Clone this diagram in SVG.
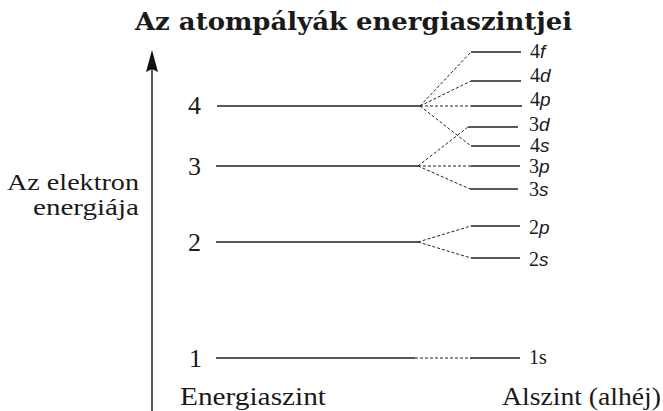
<svg xmlns="http://www.w3.org/2000/svg" width="663" height="411" viewBox="0 0 663 411">
<defs>
<style>
.serif{font-family:"Liberation Serif","Times New Roman",serif;fill:#1a1a1a}
.lab{font-family:"Liberation Serif","Times New Roman",serif;font-size:20px;fill:#1a1a1a}
.it{font-family:"Liberation Sans",Arial,sans-serif;font-style:italic;font-size:19px}
.lvl{stroke:#222;stroke-width:1.3;fill:none}
.dash{stroke:#222;stroke-width:1;stroke-dasharray:3 2;fill:none}
</style>
</defs>
<rect width="663" height="411" fill="#fff"/>
<text id="title" x="135" y="30" font-family="'DejaVu Serif','Liberation Serif',serif" font-size="25" font-weight="bold" fill="#1a1a1a" textLength="437" lengthAdjust="spacingAndGlyphs">Az atompályák energiaszintjei</text>
<g id="axis">
<line x1="152" y1="411" x2="152" y2="66" stroke="#111" stroke-width="1.4"/>
<path d="M152 50 L158 72 L152 69 L146 72 Z" fill="#111"/>
<text class="serif" font-size="24" text-anchor="end" x="139" y="190" textLength="132" lengthAdjust="spacingAndGlyphs">Az elektron</text>
<text class="serif" font-size="24" text-anchor="end" x="139" y="215" textLength="106" lengthAdjust="spacingAndGlyphs">energiája</text>
<text class="serif" font-size="25" x="180" y="405" textLength="146" lengthAdjust="spacingAndGlyphs">Energiaszint</text>
<text class="serif" font-size="25" x="502" y="405" textLength="159" lengthAdjust="spacingAndGlyphs">Alszint (alhéj)</text>
</g>
<g id="level-4"><text class="serif" font-size="26" x="188" y="114">4</text><line class="lvl" x1="217" y1="106" x2="420" y2="106"/></g>
<g id="level-3"><text class="serif" font-size="26" x="188" y="175">3</text><line class="lvl" x1="216" y1="166" x2="418" y2="166"/></g>
<g id="level-2"><text class="serif" font-size="26" x="188" y="251">2</text><line class="lvl" x1="216" y1="242" x2="418" y2="242"/></g>
<g id="level-1"><text class="serif" font-size="26" x="189" y="367">1</text><line class="lvl" x1="216" y1="358" x2="415" y2="358"/></g>
<g id="sub-4f"><line class="lvl" x1="471" y1="52" x2="521" y2="52"/><text class="lab" x="530" y="58">4<tspan class="it">f</tspan></text></g>
<g id="sub-4d"><line class="lvl" x1="471" y1="81" x2="521" y2="81"/><text class="lab" x="530" y="82">4<tspan class="it">d</tspan></text></g>
<g id="sub-4p"><line class="lvl" x1="471" y1="106" x2="522" y2="106"/><text class="lab" x="530" y="106">4<tspan class="it">p</tspan></text></g>
<g id="sub-3d"><line class="lvl" x1="468" y1="127" x2="518" y2="127"/><text class="lab" x="529" y="131">3<tspan class="it">d</tspan></text></g>
<g id="sub-4s"><line class="lvl" x1="471" y1="146" x2="520" y2="146"/><text class="lab" x="530" y="152">4<tspan class="it">s</tspan></text></g>
<g id="sub-3p"><line class="lvl" x1="471" y1="166" x2="520" y2="166"/><text class="lab" x="529" y="173">3<tspan class="it">p</tspan></text></g>
<g id="sub-3s"><line class="lvl" x1="470" y1="189" x2="518" y2="189"/><text class="lab" x="529" y="196">3<tspan class="it">s</tspan></text></g>
<g id="sub-2p"><line class="lvl" x1="471" y1="226" x2="520" y2="226"/><text class="lab" x="529" y="234">2<tspan class="it">p</tspan></text></g>
<g id="sub-2s"><line class="lvl" x1="471" y1="258" x2="520" y2="258"/><text class="lab" x="529" y="266">2<tspan class="it">s</tspan></text></g>
<g id="sub-1s"><line class="lvl" x1="470" y1="358" x2="520" y2="358"/><text class="lab" x="529" y="364">1s</text></g>
<g id="connectors">
<line class="dash" x1="420" y1="106" x2="471" y2="52"/>
<line class="dash" x1="420" y1="106" x2="471" y2="81"/>
<line class="dash" x1="420" y1="106" x2="471" y2="106"/>
<line class="dash" x1="420" y1="106" x2="471" y2="146"/>
<line class="dash" x1="418" y1="166" x2="468" y2="127"/>
<line class="dash" x1="418" y1="166" x2="471" y2="166"/>
<line class="dash" x1="418" y1="166" x2="470" y2="189"/>
<line class="dash" x1="418" y1="242" x2="471" y2="226"/>
<line class="dash" x1="418" y1="242" x2="471" y2="258"/>
<line class="dash" x1="415" y1="358" x2="470" y2="358"/>
</g>
</svg>
